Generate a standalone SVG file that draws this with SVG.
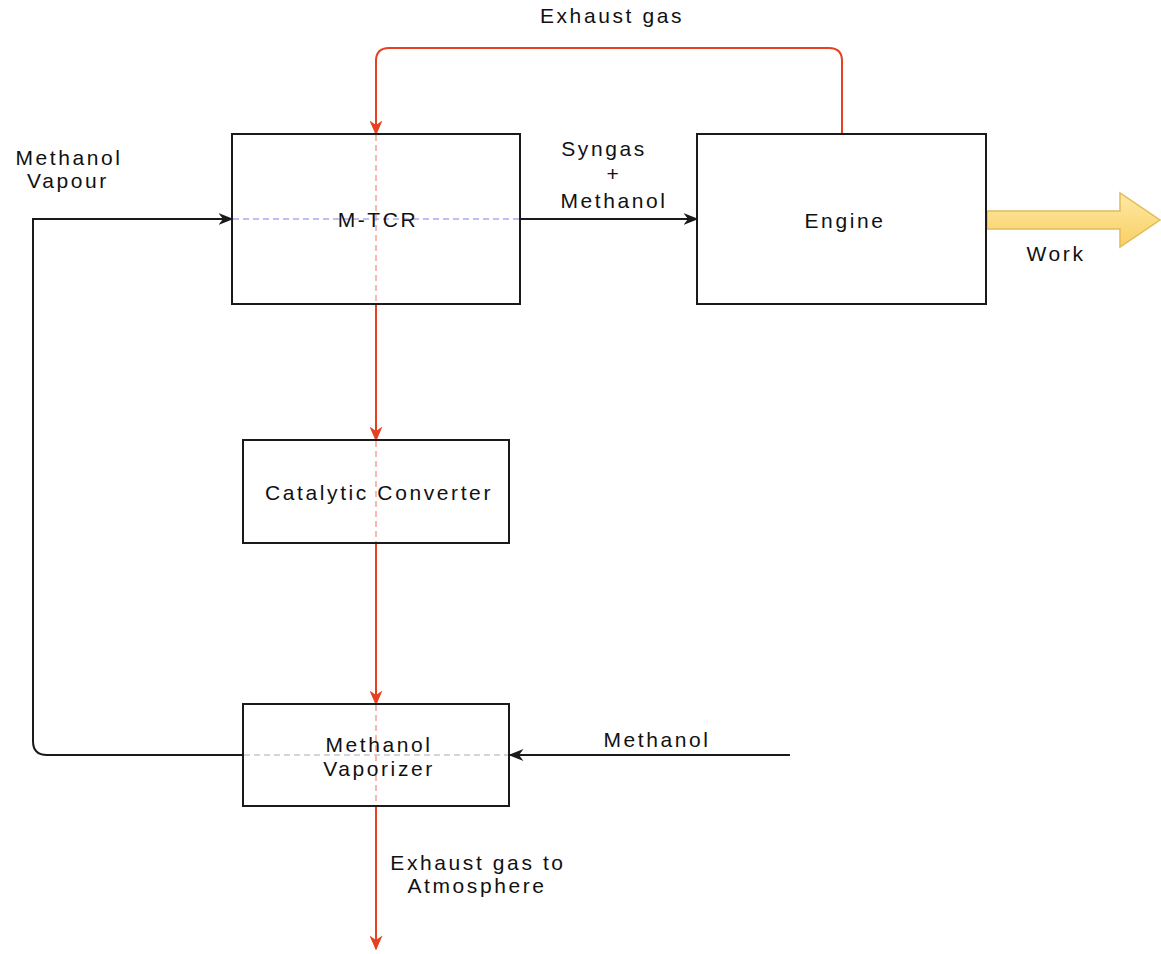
<svg xmlns="http://www.w3.org/2000/svg" width="1161" height="954" viewBox="0 0 1161 954">
<defs>
<style>
.box{fill:none;stroke:#1a1a1a;stroke-width:2}
.lbl{font-family:"Liberation Sans",Arial,sans-serif;font-size:21px;fill:#111;text-anchor:middle;letter-spacing:2.6px}
.red{fill:none;stroke:#e5401f;stroke-width:2}
.redd{fill:none;stroke:#f7a394;stroke-width:1.5;stroke-dasharray:6 4}
.blk{fill:none;stroke:#1a1a1a;stroke-width:2}
.blued{fill:none;stroke:#a9a9f5;stroke-width:1.5;stroke-dasharray:6 4}
.grayd{fill:none;stroke:#c8c8c8;stroke-width:1.5;stroke-dasharray:6 4}
</style>
<marker id="ab" viewBox="0 0 10 10" refX="9" refY="5" markerWidth="15" markerHeight="12" preserveAspectRatio="none" markerUnits="userSpaceOnUse" orient="auto">
<path d="M0,0 L10,5 L0,10 L3,5 z" fill="#1a1a1a"/>
</marker>
<marker id="ar" viewBox="0 0 10 10" refX="9" refY="5" markerWidth="15" markerHeight="13" preserveAspectRatio="none" markerUnits="userSpaceOnUse" orient="auto">
<path d="M0,0 L10,5 L0,10 L3,5 z" fill="#e5401f"/>
</marker>
<linearGradient id="yg" x1="0" y1="0" x2="0" y2="1">
<stop offset="0" stop-color="#ffe9a6"/>
<stop offset="1" stop-color="#f8cf63"/>
</linearGradient>
</defs>
<rect x="0" y="0" width="1161" height="954" fill="#fff"/>
<g id="connectors">
<path class="red" d="M842,134 V61 Q842,48 829,48 H389 Q376,48 376,61 V134" marker-end="url(#ar)"/>
<line class="redd" x1="376" y1="135" x2="376" y2="304"/>
<path class="red" d="M376,304 V440" marker-end="url(#ar)"/>
<line class="redd" x1="376" y1="441" x2="376" y2="543"/>
<path class="red" d="M376,543 V704" marker-end="url(#ar)"/>
<line class="redd" x1="376" y1="705" x2="376" y2="806"/>
<path class="red" d="M376,806 V949" marker-end="url(#ar)"/>
<line class="blued" x1="233" y1="219" x2="520" y2="219"/>
<line class="grayd" x1="244" y1="755" x2="509" y2="755"/>
<path class="blk" d="M520,219 H697" marker-end="url(#ab)"/>
<path class="blk" d="M243,755 H47 Q33,755 33,741 V219 H232" marker-end="url(#ab)"/>
<path class="blk" d="M790,755 H510" marker-end="url(#ab)"/>
<polygon points="987,211 1120,211 1120,193 1160,220 1120,247 1120,229 987,229" fill="url(#yg)" stroke="#e0bd5a" stroke-width="1.5"/>
</g>
<g id="mtcr">
<rect class="box" x="232" y="134" width="288" height="170"/>
<text class="lbl" x="378" y="227">M-TCR</text>
</g>
<g id="engine">
<rect class="box" x="697" y="134" width="289" height="170"/>
<text class="lbl" x="845" y="228">Engine</text>
</g>
<g id="catalytic">
<rect class="box" x="243" y="440" width="266" height="103"/>
<text class="lbl" x="379" y="500">Catalytic Converter</text>
</g>
<g id="vaporizer">
<rect class="box" x="243" y="704" width="266" height="102"/>
<text class="lbl" x="379" y="752">Methanol</text>
<text class="lbl" x="379" y="776">Vaporizer</text>
</g>
<g id="labels">
<text class="lbl" x="612" y="23">Exhaust gas</text>
<text class="lbl" x="604" y="156">Syngas</text>
<text class="lbl" x="614" y="181">+</text>
<text class="lbl" x="614" y="208">Methanol</text>
<text class="lbl" x="69" y="165">Methanol</text>
<text class="lbl" x="68" y="188">Vapour</text>
<text class="lbl" x="1056" y="261">Work</text>
<text class="lbl" x="657" y="747">Methanol</text>
<text class="lbl" x="478" y="870">Exhaust gas to</text>
<text class="lbl" x="477" y="893">Atmosphere</text>
</g>
</svg>
